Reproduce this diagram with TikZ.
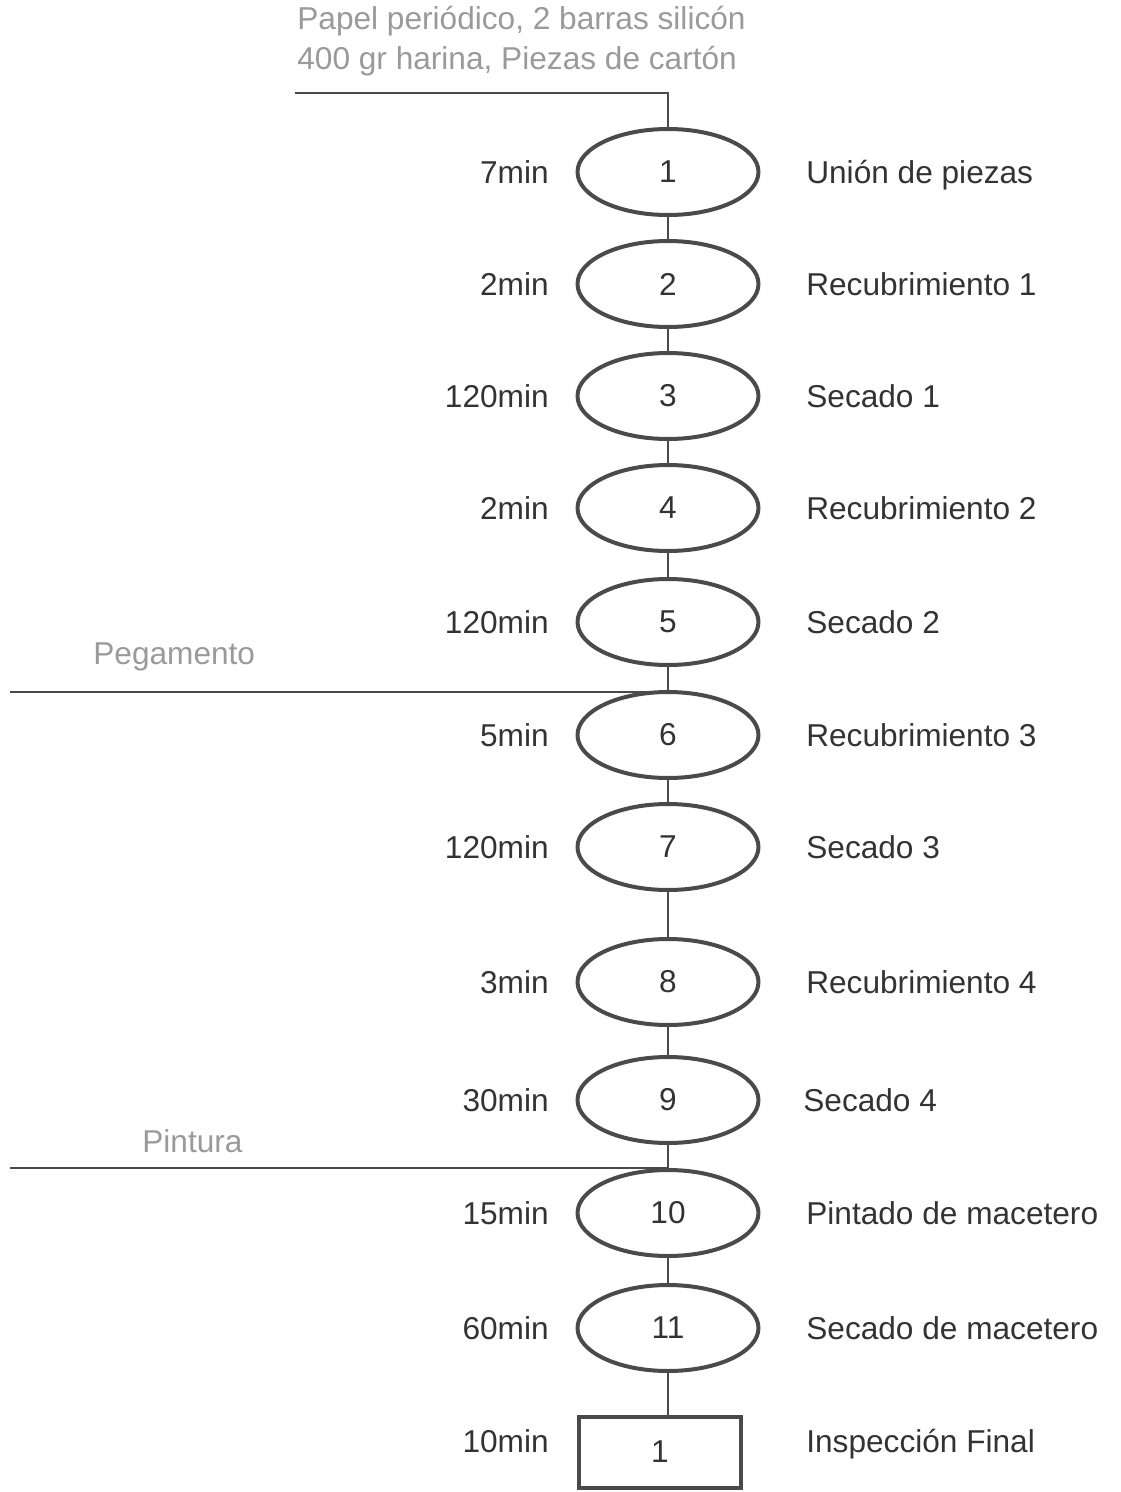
\documentclass[tikz,border=0pt]{standalone}
\usepackage{fontspec}
\setmainfont{Liberation Sans}
\usetikzlibrary{shapes,positioning}

\definecolor{trazo}{HTML}{4A4A4A}
\definecolor{texto}{HTML}{333333}
\definecolor{insumo}{HTML}{9A9A9A}

\begin{document}
\begin{tikzpicture}[
    x=0.02cm, y=-0.02cm,
    op/.style={ellipse, draw=trazo, line width=0.08cm, minimum width=3.62cm,
                minimum height=1.72cm, inner sep=0pt, text=texto, font=\fontsize{18}{22}\selectfont},
    insp/.style={rectangle, draw=trazo, line width=0.08cm, minimum width=3.24cm,
                minimum height=1.42cm, inner sep=0pt, text=texto, font=\fontsize{18}{22}\selectfont},
    tiempo/.style={inner sep=0pt, text height=12.6pt, text depth=0pt, text=texto,
                font=\fontsize{18}{22}\selectfont},
    etapa/.style={inner sep=0pt, text height=12.6pt, text depth=0pt, text=texto,
                font=\fontsize{18}{22}\selectfont},
    entrada/.style={inner sep=0pt, text=insumo, align=left, font=\fontsize{18}{22.8}\selectfont},
    linea/.style={draw=trazo, line width=0.05cm}
]
    \useasboundingbox (0,0) rectangle (1120,1492);

    % operaciones
    \node[op] (e1) at (668,172) {1};
    \node[op] (e2) at (668,284) {2};
    \node[op] (e3) at (668,396) {3};
    \node[op] (e4) at (668,508) {4};
    \node[op] (e5) at (668,622) {5};
    \node[op] (e6) at (668,735) {6};
    \node[op] (e7) at (668,847) {7};
    \node[op] (e8) at (668,982) {8};
    \node[op] (e9) at (668,1100) {9};
    \node[op] (e10) at (668,1213) {10};
    \node[op] (e11) at (668,1328) {11};
    \node[insp] (insp1) at (660,1452) {1};

    % tiempos
    \node[tiempo, left=0.53cm of e1] (t1) {7min};
    \node[tiempo, left=0.53cm of e2] (t2) {2min};
    \node[tiempo, left=0.53cm of e3] (t3) {120min};
    \node[tiempo, left=0.53cm of e4] (t4) {2min};
    \node[tiempo, left=0.53cm of e5] (t5) {120min};
    \node[tiempo, left=0.53cm of e6] (t6) {5min};
    \node[tiempo, left=0.53cm of e7] (t7) {120min};
    \node[tiempo, left=0.53cm of e8] (t8) {3min};
    \node[tiempo, left=0.53cm of e9] (t9) {30min};
    \node[tiempo, left=0.53cm of e10] (t10) {15min};
    \node[tiempo, left=0.53cm of e11] (t11) {60min};
    \node[tiempo, anchor=east] (t12) at (549,1441) {10min};

    % etapas
    \node[etapa, right=0.91cm of e1] (n1) {Unión de piezas};
    \node[etapa, right=0.91cm of e2] (n2) {Recubrimiento 1};
    \node[etapa, right=0.91cm of e3] (n3) {Secado 1};
    \node[etapa, right=0.91cm of e4] (n4) {Recubrimiento 2};
    \node[etapa, right=0.91cm of e5] (n5) {Secado 2};
    \node[etapa, right=0.91cm of e6] (n6) {Recubrimiento 3};
    \node[etapa, right=0.91cm of e7] (n7) {Secado 3};
    \node[etapa, right=0.91cm of e8] (n8) {Recubrimiento 4};
    \node[etapa, right=0.85cm of e9] (n9) {Secado 4};
    \node[etapa, right=0.91cm of e10] (n10) {Pintado de macetero};
    \node[etapa, right=0.91cm of e11] (n11) {Secado de macetero};
    \node[etapa, anchor=west] (n12) at (806,1441) {Inspección Final};

    % insumos
    \node[entrada, anchor=west] (mat) at (297,41) {Papel periódico, 2 barras silicón\\400 gr harina, Piezas de cartón};
    \node[entrada, anchor=west] (peg) at (93,657) {Pegamento};
    \node[entrada, anchor=west] (pint) at (142,1141) {Pintura};
    \coordinate (matin) at (295,93);
    \coordinate (pegin) at (10,692);
    \coordinate (pintin) at (10,1168);

    % conexiones
    \draw[linea] (matin) -| (e1.north);
    \draw[linea] (e1) -- (e2);
    \draw[linea] (e2) -- (e3);
    \draw[linea] (e3) -- (e4);
    \draw[linea] (e4) -- (e5);
    \draw[linea] (e5) -- (e6);
    \draw[linea] (e6) -- (e7);
    \draw[linea] (e7) -- (e8);
    \draw[linea] (e8) -- (e9);
    \draw[linea] (e9) -- (e10);
    \draw[linea] (e10) -- (e11);
    \draw[linea] (e11.south) -- (e11.south |- insp1.north);
    \draw[linea] (pegin) -- (pegin -| e6.north);
    \draw[linea] (pintin) -- (pintin -| e10.north);
\end{tikzpicture}
\end{document}
